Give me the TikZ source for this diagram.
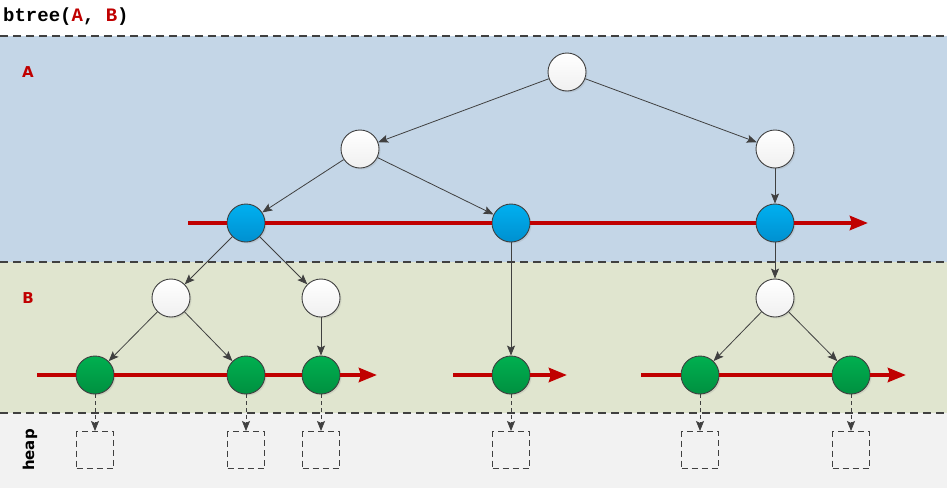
\documentclass[tikz,border=0pt]{standalone}
\usepackage{fontspec}
\setmainfont{DejaVu Sans}
\newfontfamily\codefont{Liberation Mono}
\usepackage{tikz}
\usetikzlibrary{shapes, arrows.meta, shadows}
\usepackage{xcolor}
\definecolor{tred}{RGB}{192,0,0}
\definecolor{linegray}{RGB}{64,64,64}
\definecolor{bandA}{RGB}{196,214,231}
\definecolor{bandB}{RGB}{224,229,207}
\definecolor{bandH}{RGB}{242,242,242}
\definecolor{nblue}{RGB}{0,176,240}
\definecolor{nbluedk}{RGB}{0,144,208}
\definecolor{ngreen}{RGB}{0,176,80}
\definecolor{ngreendk}{RGB}{0,144,64}
\tikzstyle{treenode} = [circle, minimum size=38pt, inner sep=0pt, draw=linegray, line width=0.9pt, drop shadow={opacity=0.18, shadow xshift=1.5pt, shadow yshift=-1.5pt}]
\tikzstyle{wnode}    = [treenode, top color=white, bottom color=gray!12]
\tikzstyle{bnode}    = [treenode, top color=nblue, bottom color=nbluedk]
\tikzstyle{gnode}    = [treenode, top color=ngreen, bottom color=ngreendk]
\tikzstyle{heapbox}  = [rectangle, minimum size=37pt, draw=linegray, line width=1pt, dash pattern=on 6pt off 4pt, fill=bandH]
\tikzstyle{edge}     = [draw=linegray, line width=0.8pt, -{Stealth[length=10pt, width=8pt, inset=2pt]}]
\tikzstyle{heapedge} = [edge, dash pattern=on 4pt off 3pt]
\tikzstyle{redline}  = [draw=tred, line width=4pt, -{Stealth[length=18pt, width=14pt, inset=2pt]}]
\tikzstyle{sep}      = [draw=linegray, line width=1.2pt, dash pattern=on 8pt off 5pt]
\tikzstyle{band}     = [text=tred, font=\bfseries\fontsize{15}{15}\selectfont]

\begin{document}
\begin{tikzpicture}[x=1pt, y=-1pt]
        \useasboundingbox (0,0) rectangle (947,490);
        % bands
        \fill[bandA] (0,36) rectangle (947,262);
        \fill[bandB] (0,262) rectangle (947,413);
        \fill[bandH] (0,413) rectangle (947,488);
        \draw[sep] (0,36) -- (947,36);
        \draw[sep] (0,262) -- (947,262);
        \draw[sep] (0,413) -- (947,413);

        \node (title) [anchor=west, inner sep=0pt, font=\codefont\bfseries\fontsize{19}{20}\selectfont] at (3,17) {btree(\textcolor{tred}{A}, \textcolor{tred}{B})};
        \node (labA) [band] at (28,72) {A};
        \node (labB) [band] at (28,298) {B};
        \node (labH) [font=\bfseries\fontsize{15}{15}\selectfont, rotate=90] at (30,450) {heap};

        % tree A
        \node (root) [wnode] at (567,72) {};
        \node (a1)   [wnode] at (360,149) {};
        \node (a2)   [wnode] at (775,149) {};
        \node (b1)   [bnode] at (246,223) {};
        \node (b2)   [bnode] at (511,223) {};
        \node (b3)   [bnode] at (775,223) {};

        % tree B
        \node (w1) [wnode] at (171,298) {};
        \node (w2) [wnode] at (321,298) {};
        \node (w3) [wnode] at (775,298) {};
        \node (g1) [gnode] at (95,375) {};
        \node (g2) [gnode] at (246,375) {};
        \node (g3) [gnode] at (321,375) {};
        \node (g4) [gnode] at (511,375) {};
        \node (g5) [gnode] at (700,375) {};
        \node (g6) [gnode] at (851,375) {};

        % heap
        \node (h1) [heapbox] at (95,450) {};
        \node (h2) [heapbox] at (246,450) {};
        \node (h3) [heapbox] at (321,450) {};
        \node (h4) [heapbox] at (511,450) {};
        \node (h5) [heapbox] at (700,450) {};
        \node (h6) [heapbox] at (851,450) {};

        % leaf chains
        \coordinate (ra0) at (188,223);  \coordinate (ra1) at (868,223);
        \coordinate (rb0) at (37,375);   \coordinate (rb1) at (377,375);
        \coordinate (rc0) at (453,375);  \coordinate (rc1) at (567,375);
        \coordinate (rd0) at (641,375);  \coordinate (rd1) at (906,375);
        \draw[redline] (ra0) -- (b1) (b1) -- (b2) (b2) -- (b3) (b3) -- (ra1);
        \draw[redline] (rb0) -- (g1) (g1) -- (g2) (g2) -- (g3) (g3) -- (rb1);
        \draw[redline] (rc0) -- (g4) (g4) -- (rc1);
        \draw[redline] (rd0) -- (g5) (g5) -- (g6) (g6) -- (rd1);

        \draw[edge] (root) -- (a1);
        \draw[edge] (root) -- (a2);
        \draw[edge] (a1) -- (b1);
        \draw[edge] (a1) -- (b2);
        \draw[edge] (a2) -- (b3);
        \draw[edge] (b1) -- (w1);
        \draw[edge] (b1) -- (w2);
        \draw[edge] (b2) -- (g4);
        \draw[edge] (b3) -- (w3);
        \draw[edge] (w1) -- (g1);
        \draw[edge] (w1) -- (g2);
        \draw[edge] (w2) -- (g3);
        \draw[edge] (w3) -- (g5);
        \draw[edge] (w3) -- (g6);

        \foreach \i in {1,...,6}
            \draw[heapedge] (g\i) -- (h\i);
    \end{tikzpicture}
\end{document}
